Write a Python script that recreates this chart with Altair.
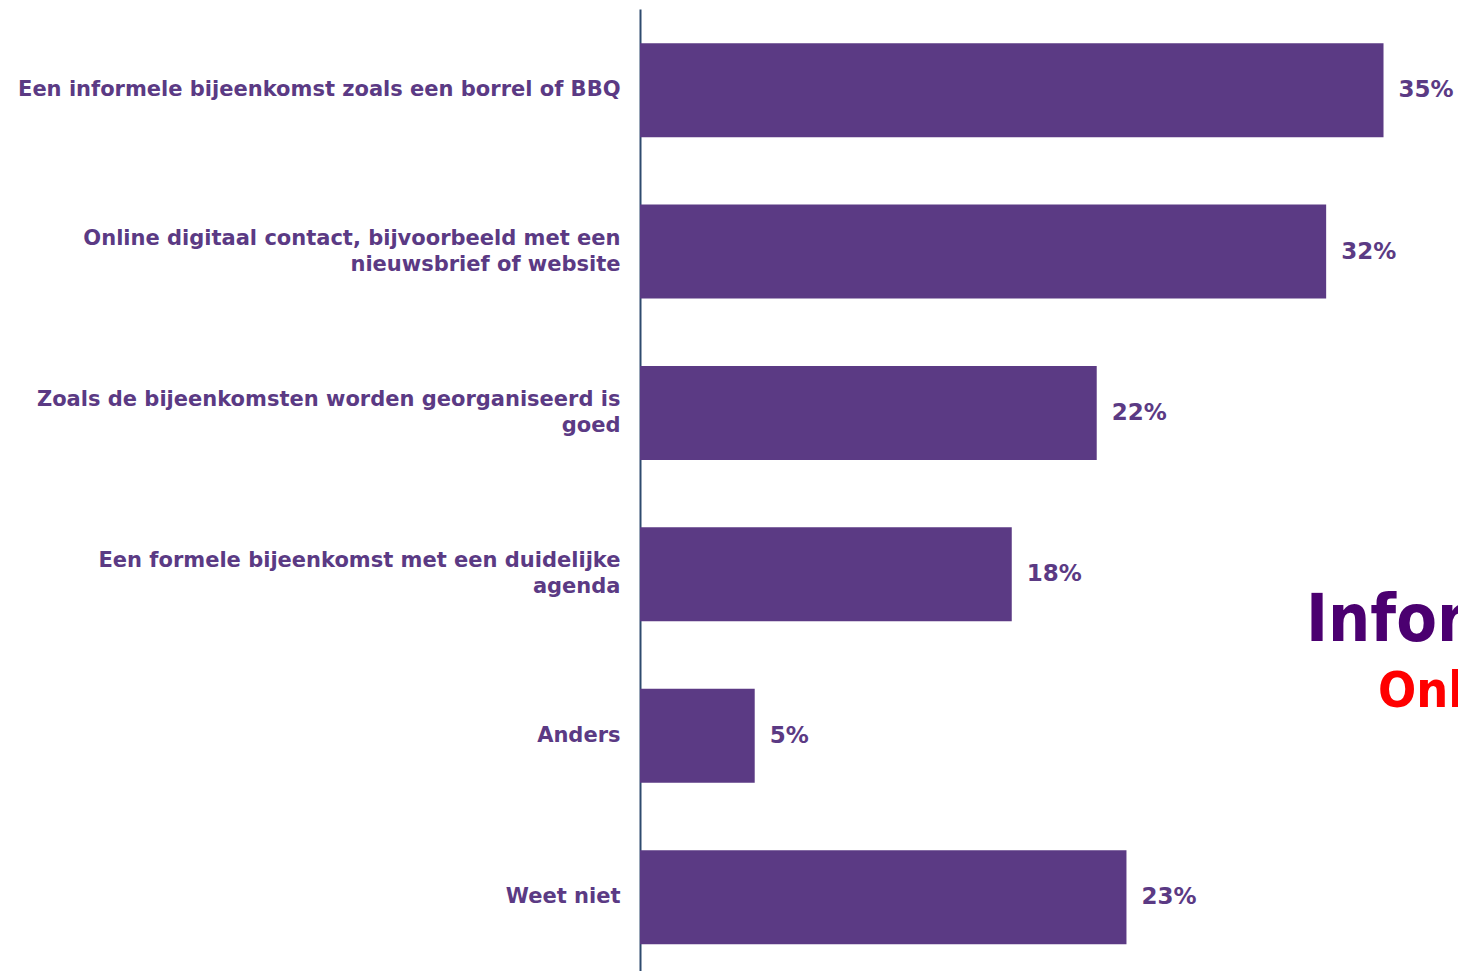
import altair as alt
import pandas as pd

categories = [
    "Een informele bijeenkomst zoals een borrel of BBQ",
    "Online digitaal contact, bijvoorbeeld met een|nieuwsbrief of website",
    "Zoals de bijeenkomsten worden georganiseerd is|goed",
    "Een formele bijeenkomst met een duidelijke|agenda",
    "Anders",
    "Weet niet",
]
values = [35.0, 32.3, 21.5, 17.5, 5.4, 22.9]
labels = ["35%", "32%", "22%", "18%", "5%", "23%"]

df = pd.DataFrame({"cat": categories, "val": values, "lab": labels})

PURPLE = "#5B3A84"

y_scale = alt.Scale(paddingInner=0.4176, paddingOuter=0.189, align=0.56)

y_enc = alt.Y(
    "cat:N",
    sort=categories,
    title=None,
    scale=y_scale,
    axis=alt.Axis(
        labelExpr="split(datum.label, '|')",
        labelFontSize=21,
        labelFont="DejaVu Sans",
        labelFontWeight="bold",
        labelColor=PURPLE,
        labelLimit=700,
        labelPadding=20,
        labelLineHeight=26,
        labelOffset={"condition": {"test": "indexof(datum.value, '|') >= 0", "value": -13}, "value": 0},
        ticks=False,
        domainColor="#2E4A6E",
        domainWidth=2,
        grid=False,
    ),
)
x_enc = alt.X(
    "val:Q",
    title=None,
    scale=alt.Scale(domain=[0, 37], nice=False, zero=True),
    axis=None,
)

bars = alt.Chart(df).mark_bar(color=PURPLE).encode(x=x_enc, y=y_enc)

text = alt.Chart(df).mark_text(
    align="left", baseline="middle", dx=15, fontSize=23,
    font="DejaVu Sans", fontWeight="bold", color=PURPLE,
).encode(x=x_enc, y=alt.Y("cat:N", sort=categories), text="lab:N")

NARROW = "Liberation Sans Narrow, DejaVu Sans Condensed, Roboto Condensed, sans-serif"

logo1 = alt.Chart(pd.DataFrame({"t": ["Informatie"]})).mark_text(
    align="left", baseline="alphabetic", fontSize=66,
    font=NARROW, fontWeight="bold", color="#4B0070",
).encode(x=alt.value(666), y=alt.value(632), text="t:N")

logo2 = alt.Chart(pd.DataFrame({"t": ["Online"]})).mark_text(
    align="left", baseline="alphabetic", fontSize=50,
    font=NARROW, fontWeight="bold", color="#FF0000",
).encode(x=alt.value(738), y=alt.value(698), text="t:N")

chart = alt.layer(bars, text, logo1, logo2).properties(
    width=786,
    height=962,
    background="white",
    autosize=alt.AutoSizeParams(type="none"),
    padding={"left": 640, "top": 9, "right": 32, "bottom": 0},
).configure_view(stroke=None)

chart.save("out.html", embed_options={"renderer": "svg", "actions": False})
